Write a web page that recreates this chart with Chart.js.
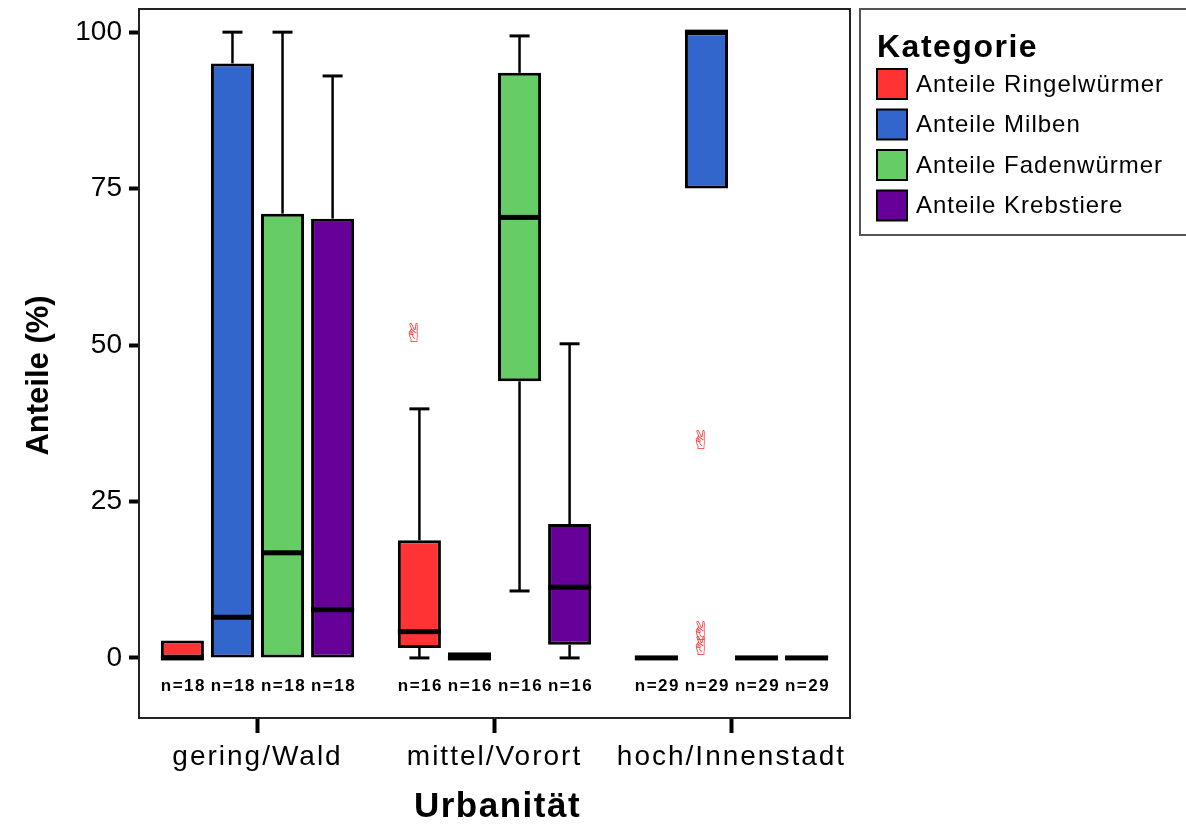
<!DOCTYPE html>
<html><head><meta charset="utf-8">
<script src="https://cdn.jsdelivr.net/npm/chart.js@4.4.1/dist/chart.umd.min.js"></script>
<style>html,body{margin:0;padding:0;background:#fff;}canvas{display:block;}</style>
</head><body>
<canvas id="c" width="1186" height="830"></canvas>
<script>
const categories = ['gering/Wald', 'mittel/Vorort', 'hoch/Innenstadt'];
const seriesNames = ['Anteile Ringelwürmer', 'Anteile Milben', 'Anteile Fadenwürmer', 'Anteile Krebstiere'];
const seriesColors = ['#FF3333', '#3366CC', '#66CC66', '#660099'];
// values indexed [series][category]
const q1Values = [[0, 1.6, 0], [0, 0, 75], [0, 44.2, 0], [0, 2.1, 0]];
const q3Values = [[2.8, 18.8, 0], [95, 0.9, 100], [71, 93.5, 0], [70.2, 21.4, 0]];
const medianValues = [[0, 4.2, 0], [6.5, 0, 100], [16.8, 70.4, 0], [7.7, 11.3, 0]];
const whiskerLow = [[0, 0, 0], [0, 0, 75], [0, 10.7, 0], [0, 0, 0]];
const whiskerHigh = [[2.8, 39.8, 0], [100, 0.9, 100], [100, 99.4, 0], [93, 50.2, 0]];
const outlierValues = [[[], [51.6], []], [[], [], [34.5, 4.0, 1.6]], [[], [], []], [[], [], []]];
const sampleSizes = [18, 16, 29];
const yTicks = [0, 25, 50, 75, 100];
const yMin = -9.6, yMax = 103.7;
const legendTitle = 'Kategorie';
const xTitle = 'Urbanität';
const yTitle = 'Anteile (%)';

const FONT = '"Liberation Sans", Arial, sans-serif';

function wrap(scale, name, fn) {
  const key = '_w_' + name;
  if (scale[key]) return;
  const orig = scale[name].bind(scale);
  scale[name] = function (a) { const c = this.ctx; c.save(); fn(c); orig(a); c.restore(); };
  scale[key] = true;
}

const boxPlugin = {
  id: 'boxExtras',
  beforeDraw(chart) {
    wrap(chart.scales.x, 'drawLabels', c => { c.letterSpacing = '2px'; });
    wrap(chart.scales.x, 'drawTitle', c => { c.letterSpacing = '1.5px'; c.translate(3, 0); });
    wrap(chart.scales.y, 'drawTitle', c => { c.translate(0, 12); });
  },
  beforeDatasetsDraw(chart) {
    const ctx = chart.ctx, y = chart.scales.y;
    chart.data.datasets.forEach((ds, si) => {
      chart.getDatasetMeta(si).data.forEach((bar, ci) => {
        const cx = bar.x, half = 10;
        ctx.save();
        ctx.strokeStyle = '#000';
        const pairs = [[q3Values[si][ci], whiskerHigh[si][ci]], [q1Values[si][ci], whiskerLow[si][ci]]];
        pairs.forEach(([edge, end]) => {
          if (edge === end) return;
          const y0 = y.getPixelForValue(edge), y1 = y.getPixelForValue(end);
          ctx.lineWidth = 2.5;
          ctx.beginPath(); ctx.moveTo(cx, y0); ctx.lineTo(cx, y1); ctx.stroke();
          ctx.lineWidth = 3;
          ctx.beginPath(); ctx.moveTo(cx - half, y1); ctx.lineTo(cx + half, y1); ctx.stroke();
        });
        ctx.restore();
      });
    });
  },
  afterDatasetsDraw(chart) {
    const ctx = chart.ctx, y = chart.scales.y;
    chart.data.datasets.forEach((ds, si) => {
      chart.getDatasetMeta(si).data.forEach((bar, ci) => {
        const cx = bar.x, w = bar.width;
        ctx.save();
        // median
        const ym = y.getPixelForValue(medianValues[si][ci]);
        ctx.fillStyle = '#000';
        ctx.fillRect(cx - w / 2, ym - 2.5, w, 5);
        // outliers
        ctx.font = '26px "DejaVu Sans", "Noto Sans", sans-serif';
        ctx.textAlign = 'center';
        ctx.textBaseline = 'middle';
        ctx.fillStyle = '#ff3030';
        outlierValues[si][ci].forEach(v => {
          ctx.fillText('\u270C', cx - 5, y.getPixelForValue(v));
        });
        // n labels
        ctx.font = 'bold 17px ' + FONT;
        ctx.letterSpacing = '1.5px';
        ctx.fillStyle = '#000';
        ctx.fillText('n=' + sampleSizes[ci], cx + 1, y.getPixelForValue(0) + 28);
        ctx.restore();
      });
    });
  },
  afterDraw(chart) {
    const ctx = chart.ctx, a = chart.chartArea;
    ctx.save();
    // plot frame
    ctx.strokeStyle = '#222';
    ctx.lineWidth = 2;
    ctx.strokeRect(a.left, a.top, a.right - a.left, a.bottom - a.top);
    // legend
    ctx.strokeStyle = '#555';
    ctx.strokeRect(860, 9, 400, 226);
    ctx.fillStyle = '#000';
    ctx.textAlign = 'left';
    ctx.textBaseline = 'alphabetic';
    ctx.font = 'bold 32px ' + FONT;
    ctx.letterSpacing = '1.5px';
    ctx.fillText(legendTitle, 877, 57);
    ctx.font = '24px ' + FONT;
    ctx.letterSpacing = '1px';
    ctx.textBaseline = 'middle';
    seriesNames.forEach((name, i) => {
      const top = 69 + i * 40.5;
      ctx.fillStyle = seriesColors[i];
      ctx.fillRect(877, top, 30, 30);
      ctx.strokeStyle = '#000';
      ctx.lineWidth = 2;
      ctx.strokeRect(877, top, 30, 30);
      ctx.fillStyle = '#000';
      ctx.fillText(name, 916, top + 16);
    });
    ctx.restore();
  }
};

const datasets = seriesNames.map((name, si) => ({
  label: name,
  data: categories.map((c, ci) => [q1Values[si][ci], q3Values[si][ci]]),
  backgroundColor: seriesColors[si],
  borderColor: '#000',
  borderWidth: 3,
  borderSkipped: false,
  categoryPercentage: 0.845,
  barPercentage: 0.86
}));

new Chart(document.getElementById('c'), {
  type: 'bar',
  data: { labels: categories, datasets },
  options: {
    responsive: false,
    animation: false,
    layout: { padding: { left: 0, right: 336, top: 9, bottom: 0 } },
    plugins: { legend: { display: false }, tooltip: { enabled: false } },
    scales: {
      x: {
        afterFit(s) { s.height = 112; s.paddingLeft = 0; s.paddingRight = 0; },
        grid: { display: true, offset: false, drawOnChartArea: false, drawTicks: true, tickLength: 15, tickWidth: 4, tickColor: '#000' },
        border: { display: false },
        ticks: { font: { family: FONT, size: 28 }, color: '#000', padding: 7, maxRotation: 0, autoSkip: false },
        title: { display: true, text: xTitle, color: '#000', font: { family: FONT, size: 35, weight: 'bold' }, padding: { top: 0, bottom: 2 } }
      },
      y: {
        min: yMin, max: yMax,
        afterBuildTicks(s) { s.ticks = yTicks.map(v => ({ value: v })); },
        afterFit(s) { s.width = 139; s.paddingTop = 0; s.paddingBottom = 0; },
        grid: { display: true, drawOnChartArea: false, drawTicks: true, tickLength: 10, tickWidth: 4, tickColor: '#000' },
        border: { display: false },
        ticks: { font: { family: FONT, size: 28 }, color: '#000', padding: 7 },
        title: { display: true, text: yTitle, color: '#000', font: { family: FONT, size: 31, weight: 'bold' }, padding: { top: 21, bottom: 0 } }
      }
    }
  },
  plugins: [boxPlugin]
});
</script>
</body></html>
